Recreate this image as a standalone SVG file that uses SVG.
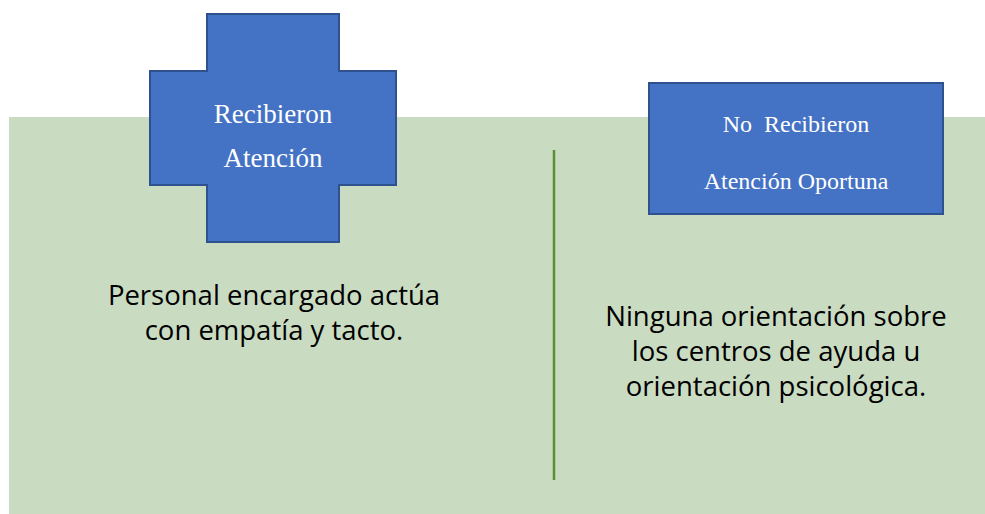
<svg xmlns="http://www.w3.org/2000/svg" width="985" height="514" viewBox="0 0 985 514">
<style>
.shape{fill:#4472C4;stroke:#2F528F;stroke-width:2}
.lbl{font-family:"Liberation Serif","Times New Roman",serif;fill:#FFFFFF;text-anchor:middle}
.body{font-family:"Open Sans","Noto Sans",sans-serif;fill:#000000;text-anchor:middle;font-size:27.5px}
</style>
<rect x="9" y="117" width="976" height="397" fill="#C9DBC1"/>
<g id="connectors">
<line x1="554" y1="150" x2="554" y2="480" stroke="#5B8F3A" stroke-width="2.5"/>
</g>
<g id="node-recibieron">
<path class="shape" d="M207,14 H339 V71 H396 V185 H339 V242 H207 V185 H150 V71 H207 Z"/>
<text class="lbl" x="273" y="123" font-size="27">Recibieron</text>
<text class="lbl" x="273" y="167" font-size="27">Atención</text>
</g>
<g id="node-no-recibieron">
<rect class="shape" x="649" y="83" width="294" height="131"/>
<text class="lbl" x="796" y="132" font-size="24" xml:space="preserve">No  Recibieron</text>
<text class="lbl" x="796" y="189" font-size="24">Atención Oportuna</text>
</g>
<g id="text-left">
<text class="body" x="274" y="305">Personal encargado actúa</text>
<text class="body" x="274" y="340">con empatía y tacto.</text>
</g>
<g id="text-right">
<text class="body" x="776" y="326">Ninguna orientación sobre</text>
<text class="body" x="776" y="361">los centros de ayuda u</text>
<text class="body" x="776" y="396">orientación psicológica.</text>
</g>
</svg>
